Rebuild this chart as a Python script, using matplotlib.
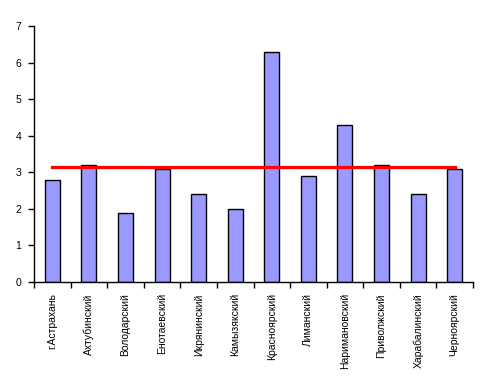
import numpy as np
import matplotlib
matplotlib.use("Agg")
import matplotlib.pyplot as plt

districts = ["г.Астрахань", "Ахтубинский", "Володарский", "Енотаевский",
             "Икрянинский", "Камызякский", "Красноярский", "Лиманский",
             "Наримановский", "Приволжский", "Харабалинский", "Черноярский"]
values = [2.8, 3.2, 1.9, 3.1, 2.4, 2.0, 6.3, 2.9, 4.3, 3.2, 2.4, 3.1]
mean_value = np.mean(values)

plt.rcParams['font.family'] = ['Liberation Sans', 'DejaVu Sans']

fig = plt.figure(figsize=(4.88, 3.88), dpi=100)
ax = fig.add_axes([0.0697, 0.273, 0.8996, 0.66])

x = np.arange(len(districts))
ax.bar(x, values, width=0.41, color='#9999FF', edgecolor='black', linewidth=1.0, zorder=2)
ax.plot([x[0], x[-1]], [mean_value, mean_value], color='#FF0000', linewidth=2.3, zorder=3)

ax.set_xlim(-0.5, len(districts) - 0.5)
ax.set_ylim(0, 7)
ax.set_yticks(range(0, 8))
ax.tick_params(axis='y', direction='out', length=4, width=1, labelsize=7.5, pad=5)

# ticks between categories, labels under each bar
ax.set_xticks(np.arange(-0.5, len(districts), 1.0))
ax.set_xticklabels([])
ax.set_xticks(x, minor=True)
ax.set_xticklabels(districts, minor=True, rotation=90, fontsize=7.5, va='top')
ax.tick_params(axis='x', which='major', direction='out', length=4, width=1)
ax.tick_params(axis='x', which='minor', length=0, pad=8)

for s in ['top', 'right']:
    ax.spines[s].set_visible(False)
for s in ['left', 'bottom']:
    ax.spines[s].set_linewidth(1)

fig.savefig('out.png', dpi=100)
